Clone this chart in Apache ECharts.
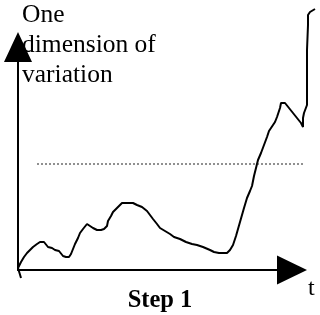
<!DOCTYPE html>
<html>
<head>
<meta charset="utf-8">
<script src="https://cdn.jsdelivr.net/npm/echarts@6/dist/echarts.min.js"></script>
<style>
    html, body { margin: 0; padding: 0; background: #fff; }
    #chart { width: 320px; height: 315px; }
</style>
</head>
<body>
<div id="chart"></div>
<script>
// time steps along the horizontal axis
var tValues = [
    3, 0, 3, 6, 9, 12, 15, 19, 22, 26, 28,
    30, 34, 37, 41, 43, 45, 48, 51, 53, 55,
    57, 60, 62, 65, 69, 72, 75, 79, 83, 86,
    89, 90, 93, 95, 98, 101, 104, 109, 115, 119,
    124, 129, 132, 135, 139, 142, 147, 152, 156, 162,
    168, 174, 179, 185, 192, 196, 201, 209, 212, 215,
    218, 220, 222, 224, 226, 229, 232, 234, 236, 238,
    240, 243, 246, 249, 251, 253, 255, 257, 259, 262,
    263, 267, 271, 275, 279, 283, 285, 285, 286, 289,
    289, 289, 290, 290, 292, 297
];
// the one dimension of variation
var variation = [
    -8, 2, 8, 13, 17, 20, 23, 26, 28, 28, 26,
    23, 22, 20, 19, 17, 14, 13, 13, 16, 21,
    26, 32, 37, 41, 46, 44, 42, 40, 40, 41,
    44, 49, 54, 58, 61, 64, 67, 67, 67, 65,
    63, 59, 55, 51, 46, 42, 39, 36, 33, 31,
    28, 26, 25, 23, 20, 18, 17, 17, 20, 25,
    34, 41, 48, 55, 62, 72, 79, 84, 94, 102,
    110, 117, 125, 133, 139, 142, 145, 148, 153, 162,
    167, 167, 162, 157, 152, 147, 143, 152, 157, 165,
    190, 220, 245, 255, 258, 261
];
// dotted threshold line
var thresholdT = [19, 286];
var thresholdLevel = 106;

var curve = [];
for (var i = 0; i < tValues.length; i++) {
    curve.push([tValues[i], variation[i]]);
}
var threshold = [];
for (var j = 0; j < thresholdT.length; j++) {
    threshold.push([thresholdT[j], thresholdLevel]);
}

var chart = echarts.init(document.getElementById("chart"));
var serif = "Liberation Serif";
var hidden = { show: false };

var option = {
    animation: false,
    backgroundColor: "#fff",
    title: [
        {
            text: "One\ndimension of\nvariation",
            left: 22, top: 0, padding: 0, z: 0,
            textStyle: { fontFamily: serif, fontSize: 25.5, fontWeight: "normal", lineHeight: 30, color: "#000" }
        },
        {
            text: "Step 1",
            left: "center", top: 288, padding: 0,
            textStyle: { fontFamily: serif, fontSize: 24.5, fontWeight: "bold", color: "#000" }
        },
        {
            text: "t",
            left: 308, top: 277, padding: 0,
            textStyle: { fontFamily: serif, fontSize: 24, fontWeight: "normal", color: "#000" }
        }
    ],
    // grid 0 draws the two arrows, grid 1 holds the data
    grid: [
        { left: 18, right: 28, top: 47, bottom: 45 },
        { left: 18, right: 0, top: 0, bottom: 45 }
    ],
    xAxis: [
        {
            gridIndex: 0, type: "value", min: 0, max: 1, z: 10,
            splitLine: hidden, axisTick: hidden, axisLabel: hidden,
            axisLine: {
                lineStyle: { color: "#000", width: 2 },
                symbol: ["none", "triangle"], symbolSize: [29, 30]
            }
        },
        {
            gridIndex: 1, type: "value", min: 0, max: 302, show: false
        }
    ],
    yAxis: [
        {
            gridIndex: 0, type: "value", min: 0, max: 1, z: 10,
            splitLine: hidden, axisTick: hidden, axisLabel: hidden,
            axisLine: {
                onZero: false,
                lineStyle: { color: "#000", width: 2 },
                symbol: ["none", "triangle"], symbolSize: [28, 30]
            }
        },
        {
            gridIndex: 1, type: "value", min: 0, max: 270, show: false
        }
    ],
    series: [
        {
            type: "line",
            xAxisIndex: 1, yAxisIndex: 1,
            data: curve,
            clip: false,
            showSymbol: false,
            lineStyle: { color: "#000", width: 2 }
        },
        {
            type: "line",
            xAxisIndex: 1, yAxisIndex: 1,
            data: threshold,
            showSymbol: false,
            lineStyle: { color: "#222", width: 1, type: [2, 2] }
        }
    ]
};
chart.setOption(option);
</script>
</body>
</html>
